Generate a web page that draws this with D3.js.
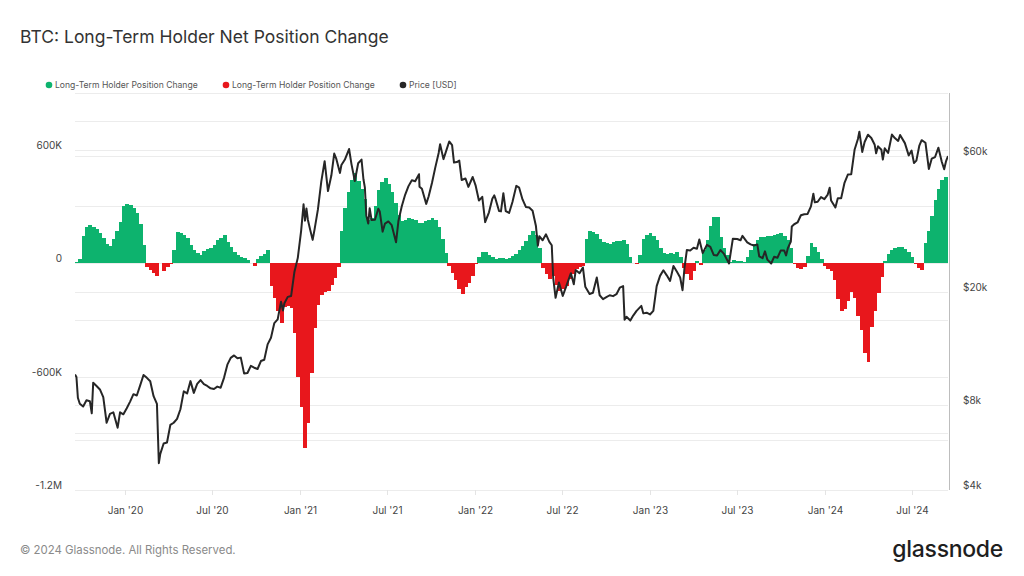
<!DOCTYPE html>
<html><head><meta charset="utf-8">
<script src="https://cdn.jsdelivr.net/npm/d3@7/dist/d3.min.js"></script>
<style>
html,body{margin:0;padding:0;background:#fff;}
svg{display:block;font-family:Inter,"Noto Sans",sans-serif;}
</style></head>
<body><svg id="c" width="1024" height="576"></svg>
<script>
// ---------- DATA ----------
const titleText = "BTC: Long-Term Holder Net Position Change";
const legendLabels = ["Long-Term Holder Position Change", "Long-Term Holder Position Change", "Price [USD]"];
const xTickDates = ["2020-01-01","2020-07-01","2021-01-01","2021-07-01","2022-01-01","2022-07-01","2023-01-01","2023-07-01","2024-01-01","2024-07-01"];
const xTickLabels = ["Jan '20","Jul '20","Jan '21","Jul '21","Jan '22","Jul '22","Jan '23","Jul '23","Jan '24","Jul '24"];
const leftTickValues = [600, 0, -600, -1200];            // thousands of BTC
const leftTickLabels = ["600K", "0", "-600K", "-1.2M"];
const rightTickValues = [60000, 20000, 8000, 4000];
const rightTickLabels = ["$60k", "$20k", "$8k", "$4k"];

// Weekly LTH net position change (thousands of BTC), first week starting 2019-09-19
const changeStart = "2019-09-19";
const lthChangeK = [
5,21,144,189,203,189,180,162,135,100,
93,127,172,217,304,312,307,294,265,206,
95,-21,-37,-53,-69,2,-42,-21,-3,69,
164,161,151,132,95,71,53,45,66,74,
79,95,122,134,148,111,85,61,45,34,
28,19,3,-13,21,37,48,69,-119,-185,
-254,-317,-233,-227,-238,-370,-603,-762,-979,-846,
-582,-344,-222,-169,-153,-148,-116,-79,-21,169,
291,376,439,479,434,391,339,230,238,302,
386,431,450,418,376,317,254,225,230,238,
235,227,212,212,222,230,241,227,190,127,
53,-16,-53,-90,-138,-164,-127,-106,-69,-5,
32,61,58,42,32,23,29,25,21,29,
37,48,71,90,116,151,169,148,79,-26,
-58,-85,-69,-116,-147,-138,-120,-85,-58,-32,
-23,-13,127,169,164,153,127,110,108,101,
111,118,119,124,101,34,3,-5,45,130,
148,159,145,122,79,56,50,56,50,58,
32,-26,-56,-87,-42,11,-11,69,122,196,
243,243,140,79,42,8,19,12,10,7,
32,69,101,124,136,138,143,144,148,156,
159,145,124,79,-5,-26,-30,-21,37,106,
83,57,21,-16,-32,-42,-90,-190,-254,-243,
-201,-153,-185,-280,-354,-476,-524,-339,-254,-159,
-74,11,48,69,79,87,87,77,61,32,
-5,-26,-37,106,169,249,333,391,439,455,413
];

// BTC price (USD)
const priceSeries = [
["2019-09-19",10200],["2019-09-22",10000],["2019-09-25",8450],["2019-09-29",8050],["2019-10-06",7870],["2019-10-13",8280],["2019-10-20",8220],["2019-10-24",7450],["2019-10-27",9550],["2019-11-03",9300],["2019-11-10",9040],["2019-11-17",8500],["2019-11-24",6900],["2019-12-01",7420],["2019-12-08",7510],["2019-12-17",6630],["2019-12-22",7510],["2019-12-29",7390],
["2020-01-05",7760],["2020-01-12",8190],["2020-01-19",8700],["2020-01-26",8610],["2020-02-02",9340],["2020-02-09",10160],["2020-02-16",9930],["2020-02-23",9660],["2020-03-01",8560],["2020-03-08",8040],["2020-03-12",4970],["2020-03-15",5360],["2020-03-22",5830],["2020-03-29",5880],["2020-04-05",6780],["2020-04-12",6900],["2020-04-19",7120],["2020-04-26",7700],["2020-05-03",8900],["2020-05-10",8750],["2020-05-17",9670],["2020-05-24",8790],["2020-05-31",9450],["2020-06-07",9750],["2020-06-14",9430],["2020-06-21",9300],["2020-06-28",9120],["2020-07-05",9070],["2020-07-12",9250],["2020-07-19",9170],["2020-07-26",9930],["2020-08-02",11050],["2020-08-09",11680],["2020-08-16",11910],["2020-08-23",11650],["2020-08-30",11700],["2020-09-06",10280],["2020-09-13",10330],["2020-09-20",10940],["2020-09-27",10780],["2020-10-04",10670],["2020-10-11",11380],["2020-10-18",11500],["2020-10-25",13030],["2020-11-01",13740],["2020-11-08",15480],["2020-11-15",15960],["2020-11-22",18400],["2020-11-26",17150],["2020-11-29",18180],["2020-12-06",19150],["2020-12-13",19270],["2020-12-20",23480],["2020-12-27",26270],
["2021-01-03",32780],["2021-01-08",40580],["2021-01-11",35500],["2021-01-14",39200],["2021-01-17",35800],["2021-01-22",32900],["2021-01-27",30400],["2021-01-31",33110],["2021-02-07",38900],["2021-02-14",48720],["2021-02-21",57540],["2021-02-28",45140],["2021-03-07",51200],["2021-03-13",61200],["2021-03-17",58900],["2021-03-25",52300],["2021-03-28",55800],["2021-04-04",58200],["2021-04-13",63500],["2021-04-18",56200],["2021-04-25",49000],["2021-05-02",56600],["2021-05-09",58280],["2021-05-13",49700],["2021-05-16",46400],["2021-05-19",37000],["2021-05-23",34700],["2021-05-26",39300],["2021-05-30",35700],["2021-06-06",35800],["2021-06-13",39100],["2021-06-16",38300],["2021-06-22",32500],["2021-06-27",34700],["2021-07-04",35300],["2021-07-11",34250],["2021-07-20",29800],["2021-07-25",35400],["2021-08-01",39900],["2021-08-08",43800],["2021-08-15",47000],["2021-08-22",49300],["2021-08-29",48900],["2021-09-06",51750],["2021-09-07",46800],["2021-09-12",46000],["2021-09-21",40700],["2021-09-26",43200],["2021-10-03",48200],["2021-10-10",54700],["2021-10-17",61500],["2021-10-20",65990],["2021-10-27",58500],["2021-10-31",61300],["2021-11-08",67500],["2021-11-14",65500],["2021-11-18",56900],["2021-11-24",57100],["2021-11-29",57800],["2021-12-04",49400],["2021-12-12",50000],["2021-12-18",46700],["2021-12-27",50600],
["2022-01-02",47300],["2022-01-09",41800],["2022-01-16",43100],["2022-01-22",35100],["2022-01-30",38000],["2022-02-06",42400],["2022-02-10",43600],["2022-02-13",42200],["2022-02-20",38400],["2022-02-24",38300],["2022-03-01",44400],["2022-03-06",38400],["2022-03-13",37800],["2022-03-20",41300],["2022-03-28",47100],["2022-04-03",46400],["2022-04-10",42200],["2022-04-17",39700],["2022-04-24",39500],["2022-05-01",38500],["2022-05-08",34000],["2022-05-12",29000],["2022-05-15",31300],["2022-05-22",30300],["2022-05-29",31800],["2022-06-05",29900],["2022-06-10",29100],["2022-06-13",22400],["2022-06-18",19000],["2022-06-25",21500],["2022-07-03",19300],["2022-07-10",20800],["2022-07-20",23200],["2022-07-26",21200],["2022-07-30",23800],["2022-08-07",23200],["2022-08-14",24300],["2022-08-19",20800],["2022-08-28",19600],["2022-09-04",19800],["2022-09-12",22400],["2022-09-18",19400],["2022-09-25",18800],["2022-10-02",19100],["2022-10-09",19400],["2022-10-16",19260],["2022-10-23",19570],["2022-10-30",20630],["2022-11-06",20900],["2022-11-09",15900],["2022-11-13",16300],["2022-11-21",15800],["2022-11-27",16450],["2022-12-04",17100],["2022-12-14",17800],["2022-12-18",16750],["2022-12-25",16840],
["2023-01-01",16600],["2023-01-08",17100],["2023-01-15",20900],["2023-01-22",22700],["2023-01-29",23750],["2023-02-05",22800],["2023-02-12",21800],["2023-02-19",24600],["2023-02-26",23500],["2023-03-05",22400],["2023-03-10",20200],["2023-03-14",24200],["2023-03-19",28000],["2023-03-26",27900],["2023-04-02",28500],["2023-04-09",28300],["2023-04-14",30500],["2023-04-21",27300],["2023-04-30",29200],["2023-05-07",28700],["2023-05-14",26900],["2023-05-21",26800],["2023-05-28",28000],["2023-06-04",27200],["2023-06-15",25100],["2023-06-23",30700],["2023-07-02",30600],["2023-07-09",30300],["2023-07-13",31400],["2023-07-23",29800],["2023-07-30",29300],["2023-08-06",29050],["2023-08-13",29300],["2023-08-17",26600],["2023-08-24",26200],["2023-08-29",27700],["2023-09-03",25900],["2023-09-11",25100],["2023-09-17",26500],["2023-09-24",26300],["2023-10-01",27900],["2023-10-08",27900],["2023-10-12",26800],["2023-10-16",28500],["2023-10-22",30000],["2023-10-24",33900],["2023-10-29",34500],["2023-11-05",35000],["2023-11-12",37100],["2023-11-19",37400],["2023-11-26",37500],["2023-12-03",39900],["2023-12-08",44200],["2023-12-11",41200],["2023-12-17",41400],["2023-12-24",43000],["2023-12-31",42300],
["2024-01-07",43900],["2024-01-11",46400],["2024-01-14",41800],["2024-01-23",39500],["2024-01-28",42600],["2024-02-04",42600],["2024-02-11",48300],["2024-02-18",51600],["2024-02-25",51700],["2024-03-03",63100],["2024-03-10",68900],["2024-03-13",73100],["2024-03-19",62000],["2024-03-24",67200],["2024-03-31",71300],["2024-04-07",69400],["2024-04-14",65700],["2024-04-17",61300],["2024-04-21",64900],["2024-04-28",63100],["2024-05-01",58300],["2024-05-05",63900],["2024-05-12",61500],["2024-05-20",71400],["2024-05-26",69400],["2024-06-02",67800],["2024-06-06",71100],["2024-06-16",66600],["2024-06-24",60300],["2024-06-30",62700],["2024-07-05",56700],["2024-07-10",57800],["2024-07-16",65100],["2024-07-21",68200],["2024-07-29",66800],["2024-08-05",54000],["2024-08-11",58700],["2024-08-18",59500],["2024-08-25",64200],["2024-09-01",57300],["2024-09-06",53900],["2024-09-10",57600],["2024-09-14",60000]
];

// ---------- CHART ----------
const svg = d3.select("#c");
const parse = d3.utcParse("%Y-%m-%d");
const plot = {left: 75, right: 948, top: 93, bottom: 490};

const x = d3.scaleUtc().domain([parse("2019-09-19"), parse("2024-09-14")]).range([plot.left, plot.right]);
const yL = d3.scaleLinear().domain([-1200, 900]).range([plot.bottom, plot.top]);
const yR = d3.scaleLog().domain([4000, 100000]).range([plot.bottom, plot.top]);

const green = "#0db36e", red = "#e8171c", priceColor = "#262626";

// title
svg.append("text").attr("x", 20).attr("y", 43).attr("font-size", 17.5).attr("fill", "#333").text(titleText);

// legend
const legendX = [49, 226, 403], legendColors = [green, red, priceColor];
legendLabels.forEach((l, i) => {
  svg.append("circle").attr("cx", legendX[i]).attr("cy", 85).attr("r", 3.3).attr("fill", legendColors[i]);
  svg.append("text").attr("x", legendX[i] + 6).attr("y", 85).attr("dy", "0.35em").attr("font-size", 8.6).attr("fill", "#555").text(l);
});

// grid
const grid = svg.append("g").attr("stroke", "#ececec").attr("stroke-width", 1);
d3.range(-1200, 901, 300).forEach(v => {
  grid.append("line").attr("x1", plot.left).attr("x2", plot.right).attr("y1", Math.round(yL(v)) + 0.5).attr("y2", Math.round(yL(v)) + 0.5);
});
[6000, 8000, 10000, 20000, 40000, 60000, 80000].forEach(v => {
  grid.append("line").attr("x1", plot.left).attr("x2", plot.right).attr("y1", Math.round(yR(v)) + 0.5).attr("y2", Math.round(yR(v)) + 0.5);
});
// right border
svg.append("line").attr("x1", plot.right + 1.5).attr("x2", plot.right + 1.5).attr("y1", plot.top).attr("y2", plot.bottom).attr("stroke", "#bdbdbd");

// clip
svg.append("clipPath").attr("id", "clip").append("rect")
  .attr("x", plot.left).attr("y", plot.top).attr("width", plot.right - plot.left).attr("height", plot.bottom - plot.top);
const g = svg.append("g").attr("clip-path", "url(#clip)");

// bars
const start = parse(changeStart);
const barData = lthChangeK.map((v, i) => ({d0: d3.utcDay.offset(start, 7 * i), d1: d3.utcDay.offset(start, 7 * i + 7), v}));
g.append("g").attr("shape-rendering", "crispEdges").selectAll("rect").data(barData).join("rect")
  .attr("x", d => x(d.d0))
  .attr("width", d => x(d.d1) - x(d.d0) + 0.6)
  .attr("y", d => Math.min(yL(d.v), yL(0)))
  .attr("height", d => Math.abs(yL(d.v) - yL(0)))
  .attr("fill", d => d.v >= 0 ? green : red);

// price line
const line = d3.line().x(d => x(parse(d[0]))).y(d => yR(d[1]));
g.append("path").datum(priceSeries).attr("d", line)
  .attr("fill", "none").attr("stroke", priceColor).attr("stroke-width", 2).attr("stroke-linejoin", "round");

// left axis labels
leftTickValues.forEach((v, i) => {
  svg.append("text").attr("x", 62).attr("y", yL(v) - 1).attr("text-anchor", "end")
    .attr("font-size", 10).attr("fill", "#444").text(leftTickLabels[i]);
});
// right axis labels
rightTickValues.forEach((v, i) => {
  svg.append("text").attr("x", 963).attr("y", yR(v) - 1).attr("font-size", 10).attr("fill", "#444").text(rightTickLabels[i]);
});
// x axis
xTickDates.forEach((s, i) => {
  const xx = Math.round(x(parse(s))) + 0.5;
  svg.append("line").attr("x1", xx).attr("x2", xx).attr("y1", plot.bottom).attr("y2", plot.bottom + 5).attr("stroke", "#e4e4e4");
  svg.append("text").attr("x", xx).attr("y", 514).attr("text-anchor", "middle").attr("font-size", 10).attr("fill", "#444").text(xTickLabels[i]);
});

// footer
svg.append("text").attr("x", 20).attr("y", 554).attr("font-size", 11.4).attr("fill", "#8a8a8a").text("© 2024 Glassnode. All Rights Reserved.");
svg.append("text").attr("x", 1003).attr("y", 557).attr("text-anchor", "end").attr("font-size", 23).attr("font-weight", 500).attr("fill", "#1e1e1e").attr("letter-spacing", "-0.3").text("glassnode");
</script></body></html>
